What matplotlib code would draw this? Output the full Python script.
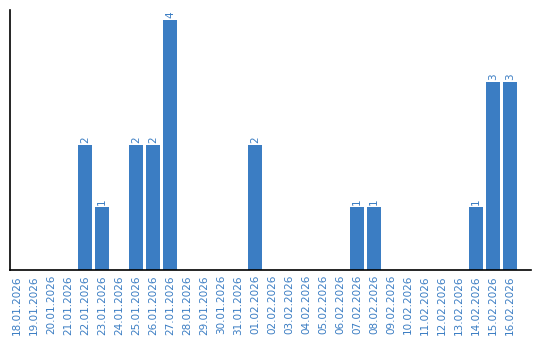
import matplotlib
matplotlib.use("Agg")
import matplotlib.pyplot as plt

dates = ["18.01.2026", "19.01.2026", "20.01.2026", "21.01.2026", "22.01.2026",
         "23.01.2026", "24.01.2026", "25.01.2026", "26.01.2026", "27.01.2026",
         "28.01.2026", "29.01.2026", "30.01.2026", "31.01.2026", "01.02.2026",
         "02.02.2026", "03.02.2026", "04.02.2026", "05.02.2026", "06.02.2026",
         "07.02.2026", "08.02.2026", "09.02.2026", "10.02.2026", "11.02.2026",
         "12.02.2026", "13.02.2026", "14.02.2026", "15.02.2026", "16.02.2026"]
counts = [0, 0, 0, 0, 2, 1, 0, 2, 2, 4, 0, 0, 0, 0, 2,
          0, 0, 0, 0, 0, 1, 1, 0, 0, 0, 0, 0, 1, 3, 3]

blue = "#3b7dc3"

fig = plt.figure(figsize=(5.4, 3.4), dpi=100)
ax = fig.add_axes([10 / 540, 1 - 269.5 / 340, 521 / 540, 259.5 / 340])

x = list(range(len(dates)))
bars = ax.bar(x, counts, width=0.82, color=blue)
for b, v in zip(bars, counts):
    if v > 0:
        ax.text(b.get_x() + b.get_width() / 2, v + 0.03, str(v), rotation=90,
                ha="center", va="bottom", color=blue, fontsize=7.5)

ax.set_xlim(-0.41, 30.24)
ax.set_ylim(0, 4.16)
ax.set_xticks(x)
ax.set_xticklabels(dates, rotation=90, color=blue, fontsize=7.5)
ax.tick_params(axis="x", length=0, pad=4)
ax.set_yticks([])
for s in ["top", "right"]:
    ax.spines[s].set_visible(False)
for s in ["left", "bottom"]:
    ax.spines[s].set_linewidth(1.2)

fig.savefig("out.png", dpi=100)
